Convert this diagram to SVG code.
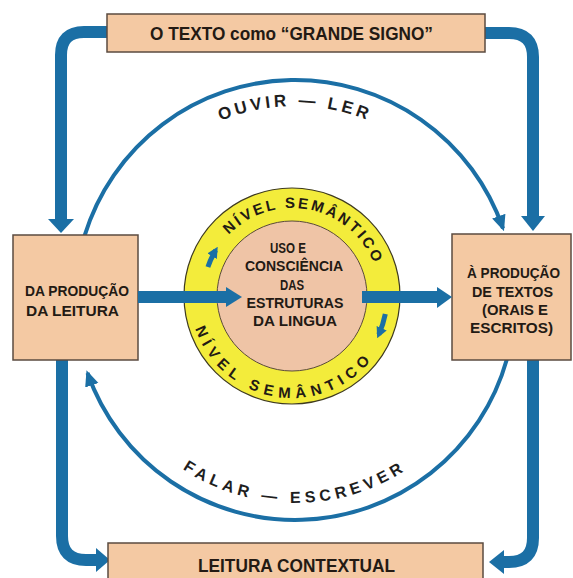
<svg xmlns="http://www.w3.org/2000/svg" width="573" height="578" viewBox="0 0 573 578">
  <style>
    .box { fill: #f4c9a3; stroke: #5b4b40; stroke-width: 1.5; }
    .lbl { font-family: "Liberation Sans", Arial, sans-serif; font-weight: bold; fill: #231a14; }
    .arc { fill: none; stroke: #1b6fa5; stroke-width: 4; }
    .thick { fill: none; stroke: #1b6fa5; stroke-width: 12; }
    .head { fill: #1b6fa5; }
    .ring { font-family: "Liberation Sans", Arial, sans-serif; font-weight: bold; font-size: 15px; fill: #231a14; }
    .loop { font-family: "Liberation Sans", Arial, sans-serif; font-weight: bold; fill: #1e1e1e; }
  </style>
  <defs>
    <marker id="tip" markerUnits="userSpaceOnUse" markerWidth="16" markerHeight="16" viewBox="0 0 16 16" refX="13" refY="8" orient="auto">
      <path d="M0,1 L16,8 L0,15 z" fill="#1b6fa5"/>
    </marker>
    <marker id="tipSmall" markerUnits="userSpaceOnUse" markerWidth="11" markerHeight="11" viewBox="0 0 11 11" refX="7" refY="5.5" orient="auto">
      <path d="M0,0 L11,5.5 L0,11 z" fill="#1b6fa5"/>
    </marker>
    <path id="pOuvir" d="M 101 300 A 194 194 0 0 1 489 300"/>
    <path id="pFalar" d="M 92 300 A 203 203 0 0 0 498 300"/>
    <path id="pRingTop" d="M 204 296 A 88 88 0 0 1 380 296"/>
    <path id="pRingBot" d="M 190 296 A 102 102 0 0 0 394 296"/>
  </defs>

  <rect width="573" height="578" fill="#ffffff"/>

  <!-- outer cycle: listening/reading on top, speaking/writing below -->
  <g id="connectors">
    <path class="arc" d="M 84.6 235.7 A 220 220 0 0 1 503 228.4" marker-end="url(#tip)"/>
    <path class="arc" d="M 506.8 359.5 A 220 220 0 0 1 87.5 373" marker-end="url(#tip)"/>

    <!-- thick corner arrows -->
    <path class="thick" d="M 107 32 H 84 Q 61 32 61 55 V 220"/>
    <polygon class="head" points="48,219 74,219 61,233"/>
    <path class="thick" d="M 485 33 H 509 Q 533 33 533 57 V 217"/>
    <polygon class="head" points="521,216 545,216 533,231"/>
    <path class="thick" d="M 62 360 V 536 Q 62 560 86 560 H 97"/>
    <polygon class="head" points="96,548 96,572 110,560"/>
    <path class="thick" d="M 533 360 V 538 Q 533 562 509 562 H 503"/>
    <polygon class="head" points="504,550 504,574 489,562"/>
  </g>

  <g id="loop-labels">
    <text class="loop" font-size="17" letter-spacing="3.5"><textPath href="#pOuvir" startOffset="50%" text-anchor="middle">OUVIR — LER</textPath></text>
    <text class="loop" font-size="16" letter-spacing="4.5"><textPath href="#pFalar" startOffset="50%" text-anchor="middle">FALAR — ESCREVER</textPath></text>
  </g>

  <g id="texto-signo">
    <rect class="box" x="107" y="14" width="378" height="38"/>
    <text class="lbl" x="150" y="40" font-size="19" textLength="283" lengthAdjust="spacingAndGlyphs">O TEXTO como “GRANDE SIGNO”</text>
  </g>

  <g id="producao-leitura">
    <rect class="box" x="13" y="235" width="125" height="125"/>
    <text class="lbl" x="25" y="296" font-size="15" textLength="104" lengthAdjust="spacingAndGlyphs">DA PRODUÇÃO</text>
    <text class="lbl" x="26" y="316" font-size="15" textLength="93" lengthAdjust="spacingAndGlyphs">DA LEITURA</text>
  </g>

  <g id="producao-textos">
    <rect class="box" x="452" y="234" width="119" height="126"/>
    <text class="lbl" x="467" y="278" font-size="15" textLength="93" lengthAdjust="spacingAndGlyphs">À PRODUÇÃO</text>
    <text class="lbl" x="472" y="297" font-size="15" textLength="81" lengthAdjust="spacingAndGlyphs">DE TEXTOS</text>
    <text class="lbl" x="482" y="315" font-size="15" textLength="66" lengthAdjust="spacingAndGlyphs">(ORAIS E</text>
    <text class="lbl" x="470" y="333" font-size="15" textLength="83" lengthAdjust="spacingAndGlyphs">ESCRITOS)</text>
  </g>

  <g id="leitura-contextual">
    <rect class="box" x="108" y="543" width="375" height="42"/>
    <text class="lbl" x="198" y="572" font-size="18" textLength="197" lengthAdjust="spacingAndGlyphs">LEITURA CONTEXTUAL</text>
  </g>

  <!-- semantic ring around the core -->
  <g id="nivel-semantico">
    <circle cx="292" cy="296" r="108" fill="#f3ec3b" stroke="#3e3a20" stroke-width="1.2"/>
    <circle cx="292" cy="296" r="75" fill="#efc4a6" stroke="#5a4a3a" stroke-width="1"/>
    <text class="ring" letter-spacing="2.6"><textPath href="#pRingTop" startOffset="56.5%" text-anchor="middle">NÍVEL SEMÂNTICO</textPath></text>
    <text class="ring" letter-spacing="5.6"><textPath href="#pRingBot" startOffset="45%" text-anchor="middle">NÍVEL SEMÂNTICO</textPath></text>
    <path fill="none" stroke="#1b6fa5" stroke-width="5" d="M 207.9 267 A 89 89 0 0 1 215.7 250.2" marker-end="url(#tipSmall)"/>
    <path fill="none" stroke="#1b6fa5" stroke-width="5" d="M 385.3 314.1 A 95 95 0 0 1 378.8 334.6" marker-end="url(#tipSmall)"/>
  </g>

  <g id="uso-consciencia">
    <text class="lbl" x="288" y="253" font-size="14" text-anchor="middle" textLength="36" lengthAdjust="spacingAndGlyphs">USO E</text>
    <text class="lbl" x="294" y="271" font-size="14" text-anchor="middle" textLength="98" lengthAdjust="spacingAndGlyphs">CONSCIÊNCIA</text>
    <text class="lbl" x="292" y="290" font-size="14" text-anchor="middle" textLength="24" lengthAdjust="spacingAndGlyphs">DAS</text>
    <text class="lbl" x="295" y="308" font-size="14" text-anchor="middle" textLength="97" lengthAdjust="spacingAndGlyphs">ESTRUTURAS</text>
    <text class="lbl" x="295" y="326" font-size="14" text-anchor="middle" textLength="84" lengthAdjust="spacingAndGlyphs">DA LINGUA</text>
  </g>

  <!-- horizontal flow through the core -->
  <g id="flow-arrows">
    <path class="thick" d="M 138 297 H 228"/>
    <polygon class="head" points="226,287 226,307 242,297"/>
    <path class="thick" d="M 362 297 H 438"/>
    <polygon class="head" points="437,287 437,308 452,297"/>
  </g>
</svg>
